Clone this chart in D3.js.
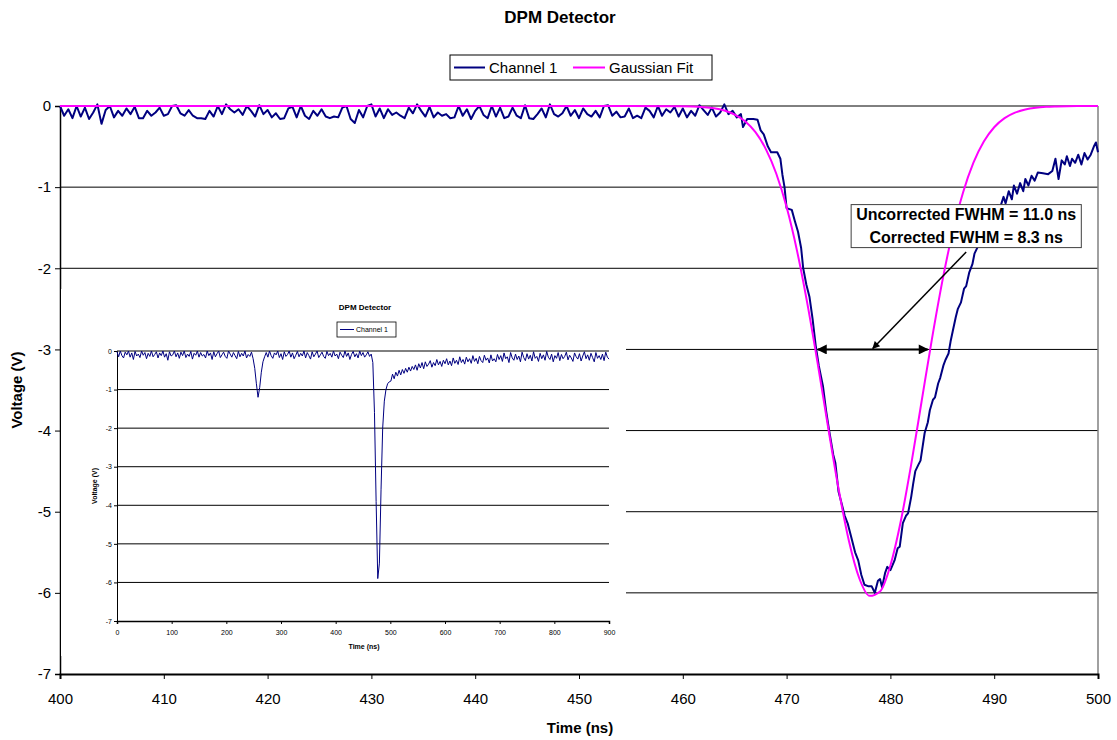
<!DOCTYPE html>
<html lang="en">
<head>
    <title>DPM Detector</title>
    <meta charset="UTF-8">
    <script src="https://d3js.org/d3.v7.min.js"></script>
    <style>
      body { margin: 0; background: #fff; }
      text { font-family: "Liberation Sans", Arial, sans-serif; fill: #000; }
    </style>
</head>
<body>
<svg id="chart" width="1117" height="740"></svg>
<script>
// main chart: Channel 1 baseline noise, sampled every 0.4 ns from 400 ns
const ch1Start = 400, ch1Step = 0.4
const ch1Noise = [
  0, -.12, -.04, -.15, 0, -.13, -.02, -.16, -.08, .02, -.22, -.05, 0, -.14, -.06, -.12, -.03, -.1, -.01, -.15, -.15, -.06, -.12, -.08, -.02,
  -.12, -.1, 0, .01, -.09, -.12, -.05, -.12, -.15, -.15, -.16, -.06, -.13, 0, -.1, .02, -.04, -.08, -.04, -.11, 0, -.06, -.13, .01, -.1,
  -.05, -.14, -.09, -.16, -.15, -.03, -.01, -.14, 0, -.12, -.16, -.06, -.12, -.04, -.13, -.15, -.13, -.14, -.02, 0, -.16, -.21, -.05, -.14, 0,
  .02, -.13, -.03, -.15, -.04, -.11, -.08, -.12, -.15, -.02, -.09, .02, -.06, -.13, -.01, -.14, -.08, -.12, -.1, -.15, -.14, 0, -.12, -.04, -.16,
  -.06, 0, -.11, -.15, 0, -.13, -.02, -.15, -.13, -.02, -.12, -.15, .01, -.15, -.16, -.1, -.03, -.14, .02, -.1, -.13, -.09, 0, -.12, -.05,
  -.15, -.03, -.1, -.13, -.06, -.14, 0, .01, -.12, -.07, -.14, -.13, -.03, -.15, -.12, -.15, -.02, -.06, -.14, 0, -.12, -.04, -.08, -.01, -.13,
  -.03, -.14, -.06, -.12, .01, -.05, -.11, -.02, -.13, -.08, .02, -.1, -.06, -.14
]
// Channel 1 pulse, [time ns, volts]
const ch1Pulse = [
  [465.6,-0.1],[465.8,-0.26],[466.2,-0.16],[466.8,-0.16],[467.2,-0.17],[467.5,-0.3],[467.8,-0.35],[468.2,-0.5],
  [468.5,-0.57],[469.1,-0.57],[469.4,-0.65],[469.6,-0.85],[469.8,-1.0],[470.0,-1.26],[470.5,-1.28],[470.8,-1.42],
  [471.1,-1.55],[471.4,-1.75],[471.6,-2.0],[471.9,-2.2],[472.2,-2.35],[472.5,-2.62],[472.8,-2.95],[473.1,-3.2],
  [473.5,-3.45],[473.8,-3.75],[474.1,-4.0],[474.5,-4.3],[474.7,-4.4],[475.0,-4.75],[475.3,-4.9],[475.6,-5.05],
  [475.9,-5.15],[476.2,-5.3],[476.6,-5.5],[476.9,-5.6],[477.2,-5.78],[477.5,-5.9],[477.9,-5.92],[478.2,-5.92],
  [478.5,-6.0],[478.8,-5.85],[479.0,-5.83],[479.2,-5.93],[479.5,-5.75],[479.7,-5.68],[480.0,-5.72],[480.4,-5.6],
  [480.7,-5.45],[480.9,-5.43],[481.2,-5.14],[481.5,-5.05],[481.7,-5.02],[482.0,-4.82],[482.2,-4.65],[482.4,-4.5],
  [482.7,-4.42],[482.9,-4.37],[483.1,-4.2],[483.3,-4.03],[483.6,-3.9],[483.8,-3.75],[484.1,-3.62],[484.3,-3.59],
  [484.6,-3.42],[484.8,-3.35],[485.1,-3.2],[485.3,-3.13],[485.6,-3.05],[485.8,-2.9],[486.0,-2.78],[486.3,-2.6],
  [486.5,-2.5],[486.8,-2.42],[487.1,-2.25],[487.3,-2.22],[487.6,-2.05],[487.9,-1.95],[488.1,-1.82],[488.4,-1.74],
  [488.7,-1.6],[488.9,-1.62],[489.2,-1.45],[489.5,-1.48],[489.7,-1.35],[490.0,-1.3],[490.3,-1.22],[490.6,-1.24],
  [490.9,-1.12],[491.1,-1.2],[491.4,-1.05],[491.7,-1.15],[491.9,-0.98],[492.2,-1.08],[492.5,-0.95],[492.8,-1.05],
  [493.0,-0.9],[493.3,-0.98],[493.6,-0.86],[493.9,-0.92],[494.2,-0.82],[494.7,-0.83],[495.2,-0.84],[495.6,-0.8],
  [495.9,-0.65],[496.2,-0.9],[496.5,-0.67],[496.8,-0.72],[497.0,-0.62],[497.3,-0.74],[497.5,-0.65],[497.8,-0.7],
  [498.1,-0.6],[498.4,-0.72],[498.7,-0.58],[499.0,-0.66],[499.3,-0.6],[499.6,-0.5],[499.8,-0.45],[500.0,-0.57]
]
// Gaussian fit, [time ns, volts]
const gaussFit = [
  [400,0],[455,0],[460,-0.003],[461,-0.006],[462,-0.014],[463,-0.028],[464,-0.056],[465,-0.105],[466,-0.188],
  [467,-0.323],[468,-0.531],[469,-0.832],[470,-1.246],[471,-1.782],[472,-2.435],[473,-3.176],[474,-3.959],
  [475,-4.713],[476,-5.358],[477,-5.82],[478,-6.037],[479,-5.982],[480,-5.662],[481,-5.118],[482,-4.42],
  [483,-3.645],[484,-2.872],[485,-2.161],[486,-1.553],[487,-1.066],[488,-0.699],[489,-0.438],[490,-0.262],
  [491,-0.15],[492,-0.082],[493,-0.043],[494,-0.021],[495,-0.01],[496,-0.005],[497,-0.002],[498,-0.001],[500,0]
]
const xTicks = [400, 410, 420, 430, 440, 450, 460, 470, 480, 490, 500]
const yTicks = [0, -1, -2, -3, -4, -5, -6, -7]
const fwhmLines = ["Uncorrected FWHM = 11.0 ns", "Corrected FWHM = 8.3 ns"]
const fwhmLeft = 473.0, fwhmRight = 483.6, fwhmLevel = -3

// inset: full Channel 1 record, sampled every 3 ns from 0 ns
const insetStart = 0, insetStep = 3
const insetVolts = [
  -.02,-.15,0,-.12,-.18,-.03,-.1,0,-.16,-.05,-.22,-.01,-.13,-.08,-.17,0,-.11,-.04,-.2,-.06,
  -.14,0,-.15,-.09,-.02,-.18,-.05,-.12,0,-.16,-.07,-.24,-.02,-.13,-.1,0,-.15,-.05,-.19,-.03,
  -.12,0,-.17,-.08,-.14,-.01,-.21,-.06,-.11,0,-.16,-.04,-.13,-.09,-.18,0,-.12,-.05,-.22,-.02,
  -.15,-.07,0,-.17,-.1,-.03,-.14,-.19,0,-.08,-.16,-.04,-.12,-.2,-.01,-.15,-.06,-.13,0,-.18,
  -.09,-.14,-.03,
  -.2,-.45,-.85,-1.2,-.95,-.55,-.28,-.15,
  -.04,-.16,0,-.12,-.19,-.05,-.1,0,-.17,-.07,-.22,-.02,-.14,-.09,0,-.16,-.05,-.2,-.11,-.01,
  -.15,-.06,-.13,0,-.18,-.04,-.12,-.21,-.02,-.15,-.08,0,-.17,-.1,-.03,-.14,-.19,-.01,-.12,-.06,
  -.16,0,-.13,-.08,-.2,-.03,-.11,-.17,0,-.14,-.05,-.22,-.09,-.01,-.15,-.07,-.18,0,-.12,-.04,
  -.16,-.1,-.02,-.14,-.08,
  -.3,-1.6,-3.9,-5.9,-5.5,-3.6,-2.0,-1.3,-1.0,-.85,-.8,
  -.78,-.6,-.72,-.55,-.65,-.5,-.62,-.48,-.58,-.45,-.55,-.42,-.52,-.4,
  -.48,-.36,-.5,-.33,-.44,-.3,-.46,-.28,-.4,-.34,-.25,-.42,-.3,-.38,-.22,-.36,-.27,-.4,-.24,-.33,
  -.2,-.36,-.26,-.38,-.18,-.32,-.24,-.35,-.15,-.3,-.22,-.34,-.16,-.28,-.2,-.32,-.12,-.27,-.19,-.33,
  -.14,-.25,-.3,-.11,-.24,-.18,-.31,-.1,-.26,-.2,-.28,-.09,-.22,
  -.12,-.27,-.05,-.2,-.15,-.3,-.04,-.18,-.24,-.08,-.22,-.13,-.28,-.03,-.17,-.25,-.07,-.21,-.11,-.26,
  -.02,-.19,-.14,-.27,-.06,-.2,-.1,-.24,-.01,-.16,-.22,-.08,-.28,-.12,-.19,-.04,-.25,-.09,-.2,-.14,
  -.03,-.23,-.11,-.18,-.27,-.05,-.15,-.21,-.07,-.26,-.13,-.02,-.2,-.1,-.24,-.06,-.17,-.28,-.04,-.19,
  -.12,-.22,-.08,-.25,-.03,-.16,-.21
]
const insetXTicks = [0, 100, 200, 300, 400, 500, 600, 700, 800, 900]

const svg = d3.select("#chart")
const navy = "#000080", magenta = "#ff00ff"

// ---- main plot ----
const x = d3.scaleLinear().domain([400, 500]).range([60, 1098])
const y = d3.scaleLinear().domain([-7, 0]).range([674, 106])

svg.append("text").attr("x", 560).attr("y", 23).attr("text-anchor", "middle")
  .style("font-size", "17px").style("font-weight", "bold").text("DPM Detector")

// gridlines
svg.append("g").selectAll("line").data(yTicks.filter(d => d > -7)).enter()
  .append("line")
    .attr("x1", x(400)).attr("x2", x(500))
    .attr("y1", d => y(d)).attr("y2", d => y(d))
    .attr("stroke", "#000").attr("stroke-width", 1)
svg.append("line").attr("x1", x(500)).attr("x2", x(500)).attr("y1", y(0)).attr("y2", y(-7))
  .attr("stroke", "#808080").attr("stroke-width", 1.5)

const yAxis = d3.axisLeft(y).tickValues(yTicks).tickSize(5).tickFormat(d => String(d))
const yAxisG = svg.append("g").attr("transform", `translate(${x(400)},0)`).call(yAxis)
const xAxis = d3.axisBottom(x).tickValues(xTicks).tickSize(5).tickFormat(d => String(d))
const xAxisG = svg.append("g").attr("transform", `translate(0,${y(-7)})`).call(xAxis)
yAxisG.selectAll("text").style("font-size", "15px").attr("x", -9)
xAxisG.selectAll("text").style("font-size", "15px").attr("y", 19)
yAxisG.select(".domain").attr("stroke-width", 1.5)
xAxisG.select(".domain").attr("stroke-width", 2)

svg.append("text").attr("x", 580).attr("y", 733).attr("text-anchor", "middle")
  .style("font-size", "15px").style("font-weight", "bold").text("Time (ns)")
svg.append("text").attr("transform", `translate(22,${y(-3.5)}) rotate(-90)`).attr("text-anchor", "middle")
  .style("font-size", "15px").style("font-weight", "bold").text("Voltage (V)")

// ---- inset ----
svg.append("rect").attr("x", 61).attr("y", 289).attr("width", 565).attr("height", 367).attr("fill", "#fff")

const ix = d3.scaleLinear().domain([0, 900]).range([117, 609])
const iy = d3.scaleLinear().domain([-7, 0]).range([621, 351])
const inset = svg.append("g")
inset.append("g").selectAll("line").data(yTicks.filter(d => d > -7)).enter()
  .append("line")
    .attr("x1", ix(0)).attr("x2", ix(900))
    .attr("y1", d => iy(d)).attr("y2", d => iy(d))
    .attr("stroke", "#000").attr("stroke-width", 1)
const iyAxisG = inset.append("g").attr("transform", `translate(${ix(0)},0)`)
  .call(d3.axisLeft(iy).tickValues(yTicks).tickSize(3).tickFormat(d => String(d)))
const ixAxisG = inset.append("g").attr("transform", `translate(0,${iy(-7)})`)
  .call(d3.axisBottom(ix).tickValues(insetXTicks).tickSize(3).tickFormat(d => String(d)))
iyAxisG.selectAll("text").style("font-size", "7px").attr("x", -5)
ixAxisG.selectAll("text").style("font-size", "7px").attr("y", 9)
ixAxisG.select(".domain").attr("stroke-width", 1.5)

inset.append("path")
  .datum(insetVolts)
  .attr("fill", "none").attr("stroke", navy).attr("stroke-width", 1)
  .attr("d", d3.line().x((d, i) => ix(insetStart + i * insetStep)).y(d => iy(d)))

inset.append("text").attr("x", 365).attr("y", 310).attr("text-anchor", "middle")
  .style("font-size", "8px").style("font-weight", "bold").text("DPM Detector")
inset.append("rect").attr("x", 337).attr("y", 322).attr("width", 59).attr("height", 15)
  .attr("fill", "#fff").attr("stroke", "#000").attr("stroke-width", 0.8)
inset.append("line").attr("x1", 340).attr("x2", 354).attr("y1", 329.5).attr("y2", 329.5)
  .attr("stroke", navy).attr("stroke-width", 1)
inset.append("text").attr("x", 356).attr("y", 332).style("font-size", "7px").text("Channel 1")
inset.append("text").attr("x", 364).attr("y", 649).attr("text-anchor", "middle")
  .style("font-size", "7px").style("font-weight", "bold").text("Time (ns)")
inset.append("text").attr("transform", `translate(97,${iy(-3.5)}) rotate(-90)`).attr("text-anchor", "middle")
  .style("font-size", "7px").style("font-weight", "bold").text("Voltage (V)")

// ---- series ----
const ch1 = ch1Noise.map((v, i) => [ch1Start + i * ch1Step, v]).concat(ch1Pulse)
const line = d3.line().x(d => x(d[0])).y(d => y(d[1]))
svg.append("path").datum(ch1)
  .attr("fill", "none").attr("stroke", navy).attr("stroke-width", 2).attr("stroke-linejoin", "round")
  .attr("d", line)
svg.append("path").datum(gaussFit)
  .attr("fill", "none").attr("stroke", magenta).attr("stroke-width", 2)
  .attr("d", line.curve(d3.curveMonotoneX))

// ---- legend ----
const legend = svg.append("g")
legend.append("rect").attr("x", 450).attr("y", 55).attr("width", 262).attr("height", 25)
  .attr("fill", "#fff").attr("stroke", "#000").attr("stroke-width", 1)
legend.append("line").attr("x1", 454).attr("x2", 485).attr("y1", 67.5).attr("y2", 67.5)
  .attr("stroke", navy).attr("stroke-width", 2)
legend.append("text").attr("x", 489).attr("y", 73).style("font-size", "15px").text("Channel 1")
legend.append("line").attr("x1", 573).attr("x2", 605).attr("y1", 67.5).attr("y2", 67.5)
  .attr("stroke", magenta).attr("stroke-width", 2)
legend.append("text").attr("x", 609).attr("y", 73).style("font-size", "15px").text("Gaussian Fit")

// ---- FWHM annotation ----
const defs = svg.append("defs")
defs.append("marker").attr("id", "head").attr("viewBox", "0 0 10 10")
  .attr("refX", 9).attr("refY", 5).attr("markerWidth", 6).attr("markerHeight", 5)
  .attr("markerUnits", "strokeWidth").attr("orient", "auto-start-reverse")
  .append("path").attr("d", "M0,0L10,5L0,10Z").attr("fill", "#000")

svg.append("line")
  .attr("x1", x(fwhmLeft)).attr("x2", x(fwhmRight))
  .attr("y1", y(fwhmLevel)).attr("y2", y(fwhmLevel))
  .attr("stroke", "#000").attr("stroke-width", 2)
  .attr("marker-start", "url(#head)").attr("marker-end", "url(#head)")
svg.append("line")
  .attr("x1", x(487.3)).attr("y1", y(-1.8))
  .attr("x2", x((fwhmLeft + fwhmRight) / 2)).attr("y2", y(fwhmLevel) - 1)
  .attr("stroke", "#000").attr("stroke-width", 1.5)
  .attr("marker-end", "url(#head)")

const note = svg.append("g")
const noteBox = note.append("rect").attr("fill", "#fff").attr("stroke", "#404040").attr("stroke-width", 1)
const noteText = note.append("text").attr("text-anchor", "middle")
  .style("font-size", "16px").style("font-weight", "bold")
noteText.selectAll("tspan").data(fwhmLines).enter().append("tspan")
  .attr("x", x(487.3)).attr("y", (d, i) => y(-1.4) + i * 23).text(d => d)
const bb = noteText.node().getBBox()
noteBox.attr("x", bb.x - 5).attr("y", bb.y - 1).attr("width", bb.width + 10).attr("height", bb.height + 3)
</script>
</body>
</html>
